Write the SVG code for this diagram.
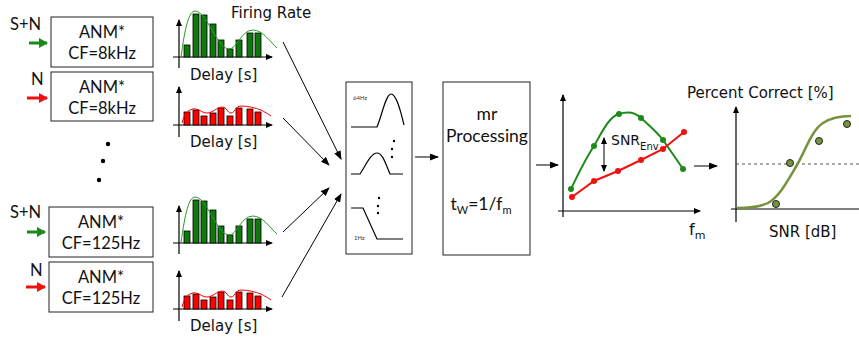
<svg xmlns="http://www.w3.org/2000/svg" width="859" height="338" viewBox="0 0 859 338">
<style>
.box{fill:#fff;stroke:#222;stroke-width:1}
.bt{font-family:Lato,"Liberation Sans",sans-serif;font-size:16.5px;fill:#111}
.lab{font-family:"DejaVu Sans",sans-serif;font-size:15px;fill:#111}
.ax{stroke:#000;stroke-width:1.2;fill:none}
.con{stroke:#000;stroke-width:1;fill:none}
.gbar{fill:#0e7a0e;stroke:#000;stroke-width:0.8}
.rbar{fill:#f00;stroke:#000;stroke-width:0.8}
.gcur{fill:none;stroke:#2a9a2a;stroke-width:1}
.rcur{fill:none;stroke:#e00;stroke-width:1}
.thin{stroke:#000;stroke-width:1.2;fill:none}
.mt{font-family:Lato,"Liberation Sans",sans-serif;font-size:17.5px;fill:#111}
</style>
<defs>
<marker id="ah" markerUnits="userSpaceOnUse" markerWidth="9" markerHeight="7" refX="8" refY="3.5" orient="auto"><path d="M0,0 L9,3.5 L0,7 z" fill="#000"/></marker>
<marker id="ahs" markerUnits="userSpaceOnUse" markerWidth="7" markerHeight="6" refX="6" refY="3" orient="auto"><path d="M0,0 L7,3 L0,6 z" fill="#000"/></marker>
<marker id="ahsr" markerUnits="userSpaceOnUse" markerWidth="7" markerHeight="6" refX="1" refY="3" orient="auto"><path d="M7,0 L0,3 L7,6 z" fill="#000"/></marker>
<marker id="ahg" markerUnits="userSpaceOnUse" markerWidth="9" markerHeight="10" refX="8" refY="5" orient="auto"><path d="M0,0 L9,5 L0,10 z" fill="#1a8a1a"/></marker>
<marker id="ahr" markerUnits="userSpaceOnUse" markerWidth="9" markerHeight="10" refX="8" refY="5" orient="auto"><path d="M0,0 L9,5 L0,10 z" fill="#f01010"/></marker>
<g id="ghist">
<path class="ax" d="M0,11 V-37" marker-end="url(#ahs)"/>
<path class="ax" d="M-6,0 H93" marker-end="url(#ahs)"/>
<rect class="gbar" x="5" y="-12" width="6" height="12"/>
<rect class="gbar" x="14" y="-43" width="6" height="43"/>
<rect class="gbar" x="22" y="-42" width="6" height="42"/>
<rect class="gbar" x="31" y="-33" width="6" height="33"/>
<rect class="gbar" x="39" y="-17" width="6" height="17"/>
<rect class="gbar" x="48" y="-8" width="6" height="8"/>
<rect class="gbar" x="57" y="-17" width="6" height="17"/>
<rect class="gbar" x="68" y="-24" width="6" height="24"/>
<rect class="gbar" x="76" y="-24" width="6" height="24"/>
<path class="gcur" d="M2,0 C6,-30 10,-46 16,-46 C28,-46 38,-8 50,-8 C58,-8 62,-27 74,-27 C84,-27 92,-14 98,-9"/>
</g>
<g id="rhist">
<path class="ax" d="M0,12 V-38" marker-end="url(#ahs)"/>
<path class="ax" d="M-6,0 H93" marker-end="url(#ahs)"/>
<rect class="rbar" x="5" y="-13" width="6" height="13"/>
<rect class="rbar" x="14" y="-15" width="6" height="15"/>
<rect class="rbar" x="22" y="-9" width="6" height="9"/>
<rect class="rbar" x="31" y="-12" width="6" height="12"/>
<rect class="rbar" x="39" y="-17" width="6" height="17"/>
<rect class="rbar" x="48" y="-9" width="6" height="9"/>
<rect class="rbar" x="57" y="-17" width="6" height="17"/>
<rect class="rbar" x="68" y="-16" width="6" height="16"/>
<rect class="rbar" x="76" y="-13" width="6" height="13"/>
<path class="rcur" d="M3,-2 C5,-10 8,-15 14,-16 C20,-17 22,-12 28,-12 C34,-12 38,-18 43,-18 C48,-18 48,-12 52,-12 C56,-12 56,-19 62,-19 C70,-19 76,-17 82,-15 C86,-13 89,-11 92,-9"/>
</g>
</defs>
<rect width="859" height="338" fill="#fff"/>

<g id="inputs">
<text class="bt" x="10" y="30">S+N</text>
<path d="M29,43 H47" stroke="#1a8a1a" stroke-width="3" marker-end="url(#ahg)"/>
<text class="bt" x="31" y="85">N</text>
<path d="M27,98 H47" stroke="#f01010" stroke-width="3" marker-end="url(#ahr)"/>
<text class="bt" x="10" y="218">S+N</text>
<path d="M27,232 H45" stroke="#1a8a1a" stroke-width="3" marker-end="url(#ahg)"/>
<text class="bt" x="30" y="276">N</text>
<path d="M26,287 H45" stroke="#f01010" stroke-width="3" marker-end="url(#ahr)"/>
<circle cx="108" cy="144" r="2.2" fill="#000"/>
<circle cx="103" cy="161" r="2.2" fill="#000"/>
<circle cx="99" cy="180" r="2.2" fill="#000"/>
</g>

<g id="anm1"><rect class="box" x="51" y="17" width="102" height="50"/><text class="bt" x="102" y="38" text-anchor="middle">ANM*</text><text class="bt" x="102" y="59" text-anchor="middle">CF=8kHz</text></g>
<g id="anm2"><rect class="box" x="51" y="72" width="102" height="49"/><text class="bt" x="102" y="93" text-anchor="middle">ANM*</text><text class="bt" x="102" y="114" text-anchor="middle">CF=8kHz</text></g>
<g id="anm3"><rect class="box" x="49" y="207" width="104" height="50"/><text class="bt" x="101" y="228" text-anchor="middle">ANM*</text><text class="bt" x="101" y="249" text-anchor="middle">CF=125Hz</text></g>
<g id="anm4"><rect class="box" x="49" y="262" width="104" height="50"/><text class="bt" x="101" y="283" text-anchor="middle">ANM*</text><text class="bt" x="101" y="304" text-anchor="middle">CF=125Hz</text></g>

<g id="hist1"><use href="#ghist" x="179" y="57"/><text class="lab" x="231" y="18">Firing Rate</text><text class="lab" x="190" y="80">Delay [s]</text></g>
<g id="hist2"><use href="#rhist" x="179" y="125"/><text class="lab" x="190" y="147">Delay [s]</text></g>
<g id="hist3"><use href="#ghist" x="179" y="243"/></g>
<g id="hist4"><use href="#rhist" x="179" y="309"/><text class="lab" x="190" y="331">Delay [s]</text></g>

<g id="filterbank">
<rect class="box" x="346" y="82" width="66" height="172"/>
<text x="353" y="100" font-family="Lato,'Liberation Sans',sans-serif" font-size="6" fill="#333">64Hz</text>
<path class="thin" d="M351,127 H377 C382,115 386,94 391,94 C396,94 400,108 404,125"/>
<circle cx="394" cy="141" r="1.2"/><circle cx="392" cy="149" r="1.2"/><circle cx="392" cy="157" r="1.2"/>
<path class="thin" d="M351,174 H360 C366,165 371,153 377,153 C383,153 386,165 390,174 H403"/>
<circle cx="379" cy="198" r="1.2"/><circle cx="378" cy="206" r="1.2"/><circle cx="378" cy="213" r="1.2"/>
<path class="thin" d="M351,208 H363 L377,239 H403"/>
<text x="354" y="240" font-family="Lato,'Liberation Sans',sans-serif" font-size="6" fill="#333">1Hz</text>
</g>

<g id="mrproc">
<rect class="box" x="443" y="82" width="87" height="173"/>
<text class="mt" x="487" y="120" text-anchor="middle">mr</text>
<text class="mt" x="487" y="142" text-anchor="middle">Processing</text>
<text class="mt" x="481" y="210" text-anchor="middle">t<tspan font-size="11" dy="4">W</tspan><tspan dy="-4">=1/f</tspan><tspan font-size="11" dy="4">m</tspan></text>
</g>

<g id="snrplot">
<path class="ax" d="M563,217 V95" marker-end="url(#ahs)"/>
<path class="ax" d="M558,211 H700" marker-end="url(#ahs)"/>
<path d="M571,189 C580,170 588,155 594,146 C603,130 610,116 619,114 C628,111 636,113 641,118 C650,126 657,132 663,140 C670,150 677,160 683,169" fill="none" stroke="#1a8a1a" stroke-width="2"/>
<g fill="#1a8a1a"><circle cx="571" cy="189" r="3"/><circle cx="594" cy="146" r="3"/><circle cx="619" cy="114" r="3"/><circle cx="641" cy="118" r="3"/><circle cx="663" cy="140" r="3"/><circle cx="683" cy="169" r="3"/></g>
<path d="M572,197 L594,181 L618,171 L641,160 L663,149 L684,132" fill="none" stroke="#f01010" stroke-width="2"/>
<g fill="#f01010"><circle cx="572" cy="197" r="3"/><circle cx="594" cy="181" r="3"/><circle cx="618" cy="171" r="3"/><circle cx="641" cy="160" r="3"/><circle cx="663" cy="149" r="3"/><circle cx="684" cy="132" r="3"/></g>
<path class="con" d="M604,138 V171" marker-start="url(#ahsr)" marker-end="url(#ahs)"/>
<text x="611" y="145" font-family="'DejaVu Sans',sans-serif" font-size="14" fill="#111">SNR<tspan font-size="10" dy="5">Env</tspan></text>
<text x="689" y="235" font-family="'DejaVu Sans',sans-serif" font-size="16" fill="#111">f<tspan font-size="11" dy="4">m</tspan></text>
</g>

<g id="pcplot">
<text class="lab" x="687" y="98">Percent Correct [%]</text>
<path class="ax" d="M736,222 V107" marker-end="url(#ahs)"/>
<path class="ax" d="M731,209 H859"/>
<path d="M736,164 H859" stroke="#555" stroke-width="1" stroke-dasharray="3,3"/>
<path d="M737,208 C750,208 760,207 768,203 C780,196 788,180 797,165 C806,149 812,130 823,123 C832,117 842,116 851,116" fill="none" stroke="#77933c" stroke-width="2.5"/>
<g fill="#77933c" stroke="#222" stroke-width="1"><circle cx="776" cy="204" r="3.5"/><circle cx="790" cy="163" r="3.5"/><circle cx="819" cy="141" r="3.5"/><circle cx="847" cy="124" r="3.5"/></g>
<text class="lab" x="769" y="237">SNR [dB]</text>
</g>

<g id="connectors">
<path class="con" d="M283,42 L341,159" marker-end="url(#ah)"/>
<path class="con" d="M283,118 L329,165" marker-end="url(#ah)"/>
<path class="con" d="M283,232 L329,188" marker-end="url(#ah)"/>
<path class="con" d="M282,297 L341,194" marker-end="url(#ah)"/>
<path class="con" d="M415,157 H438" marker-end="url(#ah)"/>
<path class="con" d="M536,165 H558" marker-end="url(#ah)"/>
<path class="con" d="M694,166 H717" marker-end="url(#ah)"/>
</g>
</svg>
